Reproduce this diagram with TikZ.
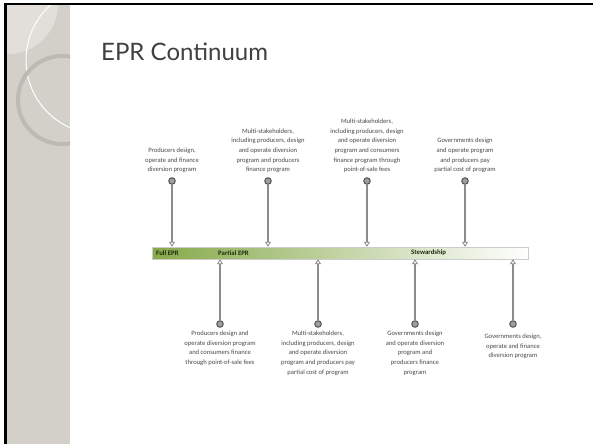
\documentclass[tikz,border=0pt]{standalone}
\usepackage{fontspec}
\setmainfont{Carlito}
\newfontfamily\titlefont{Lato}
\usetikzlibrary{arrows.meta,positioning}
\usepackage{xcolor}
\definecolor{panelgray}{HTML}{D3CFC9}
\definecolor{panellight}{HTML}{E2DFDA}
\definecolor{ringgray}{HTML}{BDB9B3}
\definecolor{titlegray}{HTML}{404040}
\definecolor{txtgray}{HTML}{4A4A4A}
\definecolor{arrgray}{HTML}{8C8C8C}
\definecolor{dotgray}{HTML}{555555}
\definecolor{bargreen}{HTML}{86A94A}
\definecolor{barlabel}{HTML}{1F2C0E}

\begin{document}
\begin{tikzpicture}[x=1pt, y=-1pt,
  desc/.style={align=center, inner sep=0pt, text=txtgray, font=\fontsize{6.6}{9.7}\selectfont},
  dot/.style={circle, draw=dotgray, fill=gray!75, line width=1pt, minimum size=6.5pt, inner sep=0pt},
  link/.style={draw=arrgray, line width=1.3pt, -{Triangle[open, length=5pt, width=6pt, line width=0.8pt]}},
  barlbl/.style={anchor=west, inner sep=0pt, text=barlabel, font=\fontsize{6.8}{7}\selectfont\bfseries}]
  \useasboundingbox (0,0) rectangle (593,444);
  \fill[white] (0,0) rectangle (593,444);

  % side panel
  \fill[panelgray] (7,5) rectangle (70,444);
  \begin{scope}
    \clip (7,5) rectangle (70,444);
    \fill[panellight] (8,4) circle (50pt);
    \draw[white, line width=1pt] (100,60) circle (74pt);
    \draw[ringgray, line width=4pt] (62,100) circle (44pt);
  \end{scope}
  \fill[black] (4,3) rectangle (7,444);
  \fill[black] (4,3) rectangle (593,5.5);

  \node[anchor=base west, inner sep=0pt, text=titlegray, font=\titlefont\fontsize{24}{26}\selectfont] (title) at (101,60) {EPR Continuum};

  % continuum bar
  \node[draw=gray!40, line width=0.4pt, left color=bargreen, middle color=bargreen!55, right color=white,
        minimum width=376pt, minimum height=12pt, inner sep=0pt, anchor=west] (bar) at (152,253) {};
  \node[barlbl] (full) at (156,253) {Full EPR};
  \node[barlbl] (partial) at (218,253) {Partial EPR};
  \node[barlbl] (steward) at (411,253) {Stewardship};

  % upper models
  \node[dot] (t1) at (172,181) {};
  \node[dot] (t2) at (268,181) {};
  \node[dot] (t3) at (367,181) {};
  \node[dot] (t4) at (465,181) {};
  \draw[link] (t1) -- (t1 |- bar.north);
  \draw[link] (t2) -- (t2 |- bar.north);
  \draw[link] (t3) -- (t3 |- bar.north);
  \draw[link] (t4) -- (t4 |- bar.north);
  \node[desc, above=4pt of t1] (tx1) {Producers design,\\operate and finance\\diversion program};
  \node[desc, above=4pt of t2] (tx2) {Multi-stakeholders,\\including producers, design\\and operate diversion\\program and producers\\finance program};
  \node[desc, above=4pt of t3] (tx3) {Multi-stakeholders,\\including producers, design\\and operate diversion\\program and consumers\\finance program through\\point-of-sale fees};
  \node[desc, above=4pt of t4] (tx4) {Governments design\\and operate program\\and producers pay\\partial cost of program};

  % lower models
  \node[dot] (b1) at (220,324) {};
  \node[dot] (b2) at (318,324) {};
  \node[dot] (b3) at (415,324) {};
  \node[dot] (b4) at (513,324) {};
  \draw[link] (b1) -- (b1 |- bar.south);
  \draw[link] (b2) -- (b2 |- bar.south);
  \draw[link] (b3) -- (b3 |- bar.south);
  \draw[link] (b4) -- (b4 |- bar.south);
  \node[desc, below=3pt of b1] (bx1) {Producers design and\\operate diversion program\\and consumers finance\\through point-of-sale fees};
  \node[desc, below=3pt of b2] (bx2) {Multi-stakeholders,\\including producers, design\\and operate diversion\\program and producers pay\\partial cost of program};
  \node[desc, below=3pt of b3] (bx3) {Governments design\\and operate diversion\\program and\\producers finance\\program};
  \node[desc, below=6pt of b4] (bx4) {Governments design,\\operate and finance\\diversion program};
\end{tikzpicture}
\end{document}
